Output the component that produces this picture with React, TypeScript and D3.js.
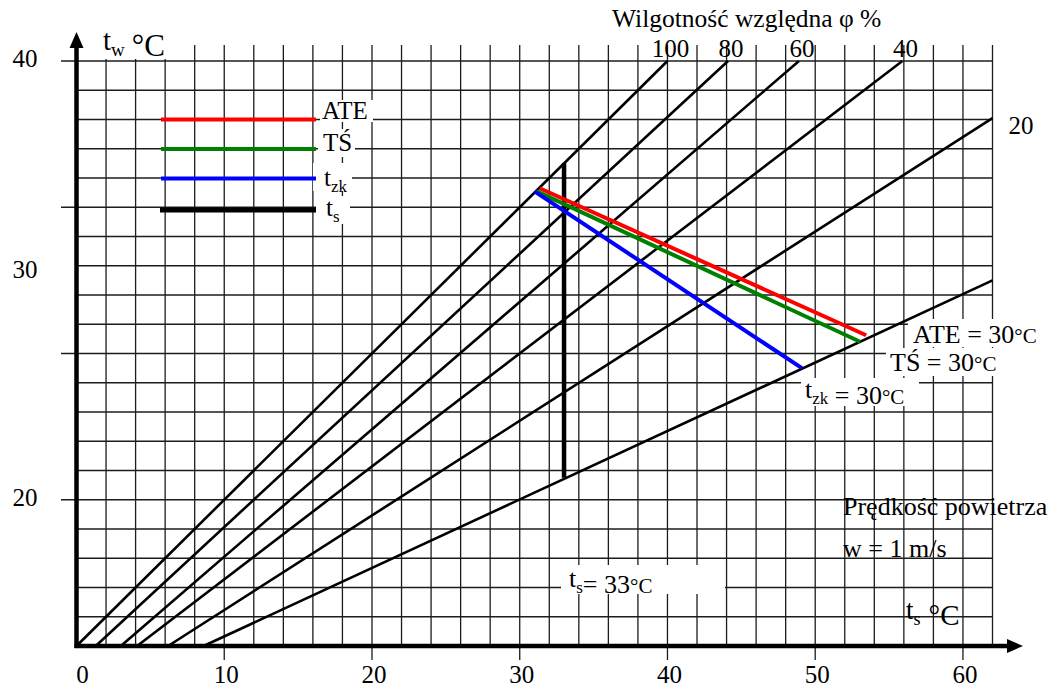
import React from "react";
import * as d3 from "d3";

const width = 1055;
const height = 688;

// ts axis (dry-bulb) and tw axis (wet-bulb) extents, °C
const tsMax = 62;
const twMin = 40 / 3;
const twMax = 40;

const tsTicks = [10, 20, 30, 40, 50, 60];
const tsLabels = [0, 10, 20, 30, 40, 50, 60];
const twLabels = [20, 30, 40];

// relative humidity lines (straight), start on ts axis, end at top / right edge
const phiLabels = ["100", "80", "60", "40", "20", ""];
const phiStartTs = [0, 1.3, 3.0, 4.1, 6.2, 8.6];
const phiEndTs = [40.0, 44.1, 48.9, 55.9, 62, 62];
const phiEndTw = [40, 40, 40, 40, 37.4, 30.0];

// comfort indices ATE, TŚ, tzk
const idxNames = ["ATE", "TŚ", "tzk"];
const idxColors = ["#ff0000", "#008000", "#0000ff"];
const idxStartTs = [31.35, 31.12, 31.0];
const idxStartTw = [34.2, 34.07, 34.06];
const idxEndTs = [53.45, 53.04, 49.1];
const idxEndTw = [27.5, 27.2, 26.0];

// ts = 33 °C line
const tsValue = 33;
const tsLineTw = [21.0, 35.35];

const font = "'Liberation Serif', 'Times New Roman', serif";

const x = d3.scaleLinear().domain([0, tsMax]).range([76.5, 992.5]);
const y = d3.scaleLinear().domain([twMin, twMax]).range([646, 61]);

const line = d3
  .line<[number, number]>()
  .x((d) => x(d[0]))
  .y((d) => y(d[1]));

const Sub = ({ base, sub, size, subSize }: any) => (
  <>
    <tspan fontSize={size}>{base}</tspan>
    <tspan fontSize={subSize} dy={size * 0.22}>
      {sub}
    </tspan>
    <tspan dy={-size * 0.22}></tspan>
  </>
);

const App = () => {
  const gridTs = d3.range(2, tsMax + 1, 2);
  const gridRows = d3.range(1, 21);
  const rowTw = (r: number) => twMin + (r * 4) / 3;
  const x0 = x(0);
  const y0 = y(twMin);

  return (
    <svg
      width={width}
      height={height}
      style={{ position: "absolute", left: 0, top: 0, background: "#fff" }}
      fontFamily={font}
    >
      {/* grid */}
      <g stroke="#1c1c1c" strokeWidth={1.3}>
        {gridTs.map((t) => (
          <line key={"v" + t} x1={x(t)} x2={x(t)} y1={y0} y2={45} />
        ))}
        {gridRows.map((r) => (
          <line
            key={"h" + r}
            x1={r % 5 === 0 ? 61 : x0}
            x2={x(tsMax)}
            y1={y(rowTw(r))}
            y2={y(rowTw(r))}
          />
        ))}
        {tsTicks.map((t) => (
          <line key={"t" + t} x1={x(t)} x2={x(t)} y1={y0} y2={660} />
        ))}
      </g>

      {/* white boxes behind labels */}
      <g fill="#fff">
        <rect x={94} y={26} width={86} height={33} />
        <rect x={320} y={100} width={53} height={22} />
        <rect x={318} y={129} width={37} height={28} />
        <rect x={313} y={163} width={39} height={28} />
        <rect x={316} y={196} width={34} height={28} />
        <rect x={561} y={565} width={164} height={29} />
        <rect x={908} y={319} width={137} height={28} />
        <rect x={886} y={348} width={114} height={28} />
        <rect x={801} y={378} width={118} height={28} />
      </g>

      {/* humidity lines */}
      <g stroke="#000" strokeWidth={2.6} fill="none">
        {phiLabels.map((p, i) => (
          <path
            key={"phi" + i}
            d={line([
              [phiStartTs[i], twMin],
              [phiEndTs[i], phiEndTw[i]],
            ])!}
          />
        ))}
      </g>

      {/* ts line */}
      <line
        x1={x(tsValue)}
        x2={x(tsValue)}
        y1={y(tsLineTw[0])}
        y2={y(tsLineTw[1])}
        stroke="#000"
        strokeWidth={4.5}
      />

      {/* index lines */}
      {idxNames.map((n, i) => (
        <path
          key={n}
          d={line([
            [idxStartTs[i], idxStartTw[i]],
            [idxEndTs[i], idxEndTw[i]],
          ])!}
          stroke={idxColors[i]}
          strokeWidth={4}
          fill="none"
        />
      ))}

      {/* axes */}
      <line x1={x0} x2={x0} y1={y0 + 2} y2={44} stroke="#000" strokeWidth={4.5} />
      <path d={`M${x0},32 L${x0 - 7},48 L${x0 + 7},48 Z`} fill="#000" />
      <line x1={x0 - 2} x2={1010} y1={y0} y2={y0} stroke="#000" strokeWidth={4.5} />
      <path d={`M1023,${y0} L1007,${y0 - 7} L1007,${y0 + 7} Z`} fill="#000" />

      {/* tick labels */}
      <g fontSize={25} fill="#000">
        {tsLabels.map((t) => (
          <text key={"xl" + t} x={x(t) + (t === 0 ? 6 : 2)} y={683} textAnchor="middle">
            {t}
          </text>
        ))}
        {twLabels.map((t) => (
          <text key={"yl" + t} x={25} y={y(t) + (t === 30 ? -2 : 6)} textAnchor="middle">
            {t}
          </text>
        ))}
      </g>

      {/* humidity labels */}
      <g fontSize={25} fill="#000">
        <text x={612} y={27} fontSize={25.5}>
          Wilgotność względna φ %
        </text>
        {phiLabels.map((p, i) =>
          phiEndTw[i] === twMax ? (
            <text key={"pl" + i} x={x(phiEndTs[i]) + 3} y={57} textAnchor="middle">
              {p}
            </text>
          ) : p ? (
            <text key={"pl" + i} x={x(phiEndTs[i]) + 16} y={y(phiEndTw[i]) + 16}>
              {p}
            </text>
          ) : null
        )}
      </g>

      {/* axis titles */}
      <text x={103} y={50} fill="#000">
        <Sub base="t" sub="w" size={29} subSize={19} />
        <tspan fontSize={31} dx={7}>
          °C
        </tspan>
      </text>
      <text x={906} y={619} fill="#000">
        <Sub base="t" sub="s" size={27} subSize={18} />
        <tspan fontSize={29} dx={8}>
          °C
        </tspan>
      </text>

      {/* legend */}
      {idxNames.map((n, i) => (
        <line
          key={"lg" + n}
          x1={161}
          x2={316}
          y1={119.5 + i * 29.5}
          y2={119.5 + i * 29.5}
          stroke={idxColors[i]}
          strokeWidth={4}
        />
      ))}
      <line x1={160} x2={316} y1={210} y2={210} stroke="#000" strokeWidth={5} />
      <g fontSize={25} fill="#000">
        <text x={322} y={119}>ATE</text>
        <text x={323} y={151}>TŚ</text>
        <text x={324} y={186}>
          <Sub base="t" sub="zk" size={25} subSize={17} />
        </text>
        <text x={326} y={216}>
          <Sub base="t" sub="s" size={25} subSize={17} />
        </text>
      </g>

      {/* annotations */}
      <g fontSize={26} fill="#000">
        <text x={913} y={343}>
          ATE = 30<tspan fontSize={21}>°C</tspan>
        </text>
        <text x={890} y={371}>
          TŚ = 30<tspan fontSize={21}>°C</tspan>
        </text>
        <text x={805} y={398}>
          <Sub base="t" sub="zk" size={26} subSize={17} />
          <tspan> = 30</tspan>
          <tspan fontSize={21}>°C</tspan>
        </text>
        <text x={569} y={587}>
          <Sub base="t" sub="s" size={26} subSize={17} />
          <tspan>= 33</tspan>
          <tspan fontSize={21}>°C</tspan>
        </text>
        <text x={843} y={515} fontSize={26}>
          Prędkość powietrza
        </text>
        <text x={843} y={557} fontSize={26}>
          w = 1 m/s
        </text>
      </g>
    </svg>
  );
};

export default App;
